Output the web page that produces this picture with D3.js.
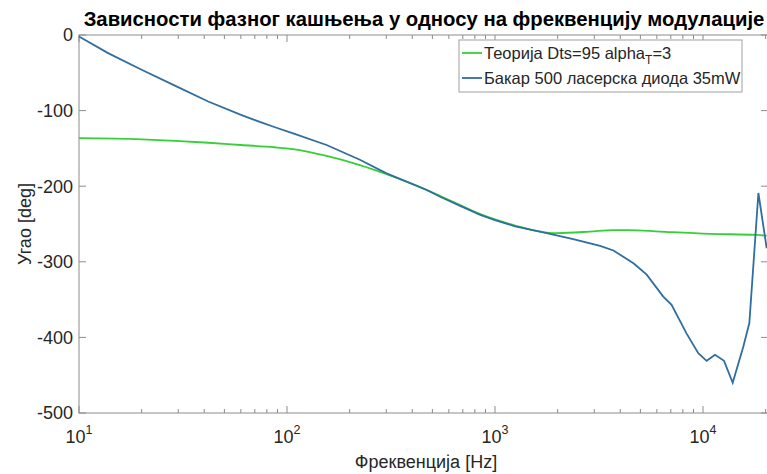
<!DOCTYPE html>
<html><head><meta charset="utf-8">
<script src="https://cdn.jsdelivr.net/npm/d3@7"></script>
<style>
html,body{margin:0;padding:0;background:#fff;overflow:hidden}
svg{display:block;font-family:"Liberation Sans",Arial,sans-serif}
</style></head>
<body>
<svg id="c" width="767" height="474"></svg>
<script>
const titleText = "Зависности фазног кашњења у односу на фреквенцију модулације";
const xLabel = "Фреквенција [Hz]";
const yLabel = "Угао [deg]";
const xTickExps = [1, 2, 3, 4];
const yTicks = [0, -100, -200, -300, -400, -500];

const theoryFreq = [10, 20, 29, 42, 60, 87, 107, 155, 224, 301, 400, 545, 680, 850, 1000, 1250, 1645, 1980, 2860, 3700, 4400, 6200, 10800, 18100, 20230];
const theoryDeg  = [-136.5, -138, -140, -142.5, -145.5, -148.5, -151, -160, -172, -184, -197, -213, -225, -237, -244, -252, -260, -262, -260, -258, -258, -260, -263, -264.5, -265.5];

const copperFreq = [10, 13.8, 20, 28.9, 41.8, 60.5, 74, 87.5, 107, 155, 224, 301, 470, 545, 680, 850, 1000, 1250, 1645, 2376, 3200, 3710, 4630, 5360, 6440, 7060, 8340, 9490, 10410, 11420, 12620, 13890, 15630, 16700, 18460, 20230];
const copperDeg  = [-2, -24, -46, -67, -88, -106, -115, -122, -130, -145.5, -165, -183, -205, -214, -226, -238, -245, -253, -260, -270, -279, -285, -302, -317, -346, -357, -395, -421, -431, -423, -431, -460, -412, -381, -209, -282];

const legendLabels = ["Теорија Dts=95 alpha", "Бакар 500 ласерска диода 35mW"];
const colors = ["#35d035", "#2f6e9e"];

const L = 79, R = 768, T = 35, B = 413;
const svg = d3.select("#c");
const x = d3.scaleLog().domain([10, 20530]).range([L, R]);
const y = d3.scaleLinear().domain([-500, 0]).range([B, T]);
const axisCol = "#8c8c8c", textCol = "#262626";

const minor = [];
for (let e = 1; e <= 4; e++) for (let m = 2; m <= 9; m++) { const v = m * Math.pow(10, e); if (v <= 20530) minor.push(v); }
const g = svg.append("g");
minor.forEach(v => {
  g.append("line").attr("x1", x(v)).attr("x2", x(v)).attr("y1", B).attr("y2", B - 4).attr("stroke", axisCol);
  g.append("line").attr("x1", x(v)).attr("x2", x(v)).attr("y1", T).attr("y2", T + 4).attr("stroke", axisCol);
});
xTickExps.forEach(e => {
  const v = Math.pow(10, e);
  g.append("line").attr("x1", x(v)).attr("x2", x(v)).attr("y1", B).attr("y2", B - 7).attr("stroke", axisCol);
  g.append("line").attr("x1", x(v)).attr("x2", x(v)).attr("y1", T).attr("y2", T + 7).attr("stroke", axisCol);
  const t = svg.append("text").attr("x", x(v)).attr("y", 443).attr("text-anchor", "middle")
    .attr("fill", textCol).attr("font-size", 18);
  t.append("tspan").text("10");
  t.append("tspan").attr("dy", -9).attr("font-size", 12.5).text(e);
});
yTicks.forEach(v => {
  g.append("line").attr("x1", L).attr("x2", L + 7).attr("y1", y(v)).attr("y2", y(v)).attr("stroke", axisCol);
  g.append("line").attr("x1", R).attr("x2", R - 7).attr("y1", y(v)).attr("y2", y(v)).attr("stroke", axisCol);
  svg.append("text").attr("x", L - 6).attr("y", y(v)).attr("dy", "0.36em").attr("text-anchor", "end")
    .attr("fill", textCol).attr("font-size", 18).text(v);
});
svg.append("rect").attr("x", L).attr("y", T).attr("width", R - L).attr("height", B - T)
  .attr("fill", "none").attr("stroke", axisCol).attr("stroke-width", 1);

svg.append("clipPath").attr("id", "cp").append("rect").attr("x", L).attr("y", T).attr("width", R - L).attr("height", B - T);
const lineTheory = d3.line().x((d, i) => x(theoryFreq[i])).y(d => y(d)).curve(d3.curveMonotoneX);
const lineCopper = d3.line().x((d, i) => x(copperFreq[i])).y(d => y(d));
svg.append("path").attr("d", lineTheory(theoryDeg)).attr("fill", "none").attr("stroke", colors[0]).attr("stroke-width", 1.8).attr("clip-path", "url(#cp)");
svg.append("path").attr("d", lineCopper(copperDeg)).attr("fill", "none").attr("stroke", colors[1]).attr("stroke-width", 1.8).attr("clip-path", "url(#cp)");

svg.append("text").attr("x", 424).attr("y", 26).attr("text-anchor", "middle")
  .attr("font-weight", "bold").attr("font-size", 20.3).attr("fill", "#000").text(titleText);
svg.append("text").attr("x", 426).attr("y", 468).attr("text-anchor", "middle")
  .attr("fill", textCol).attr("font-size", 18).text(xLabel);
svg.append("text").attr("transform", "translate(31,224) rotate(-90)").attr("text-anchor", "middle")
  .attr("fill", textCol).attr("font-size", 18).text(yLabel);

const lg = svg.append("g");
lg.append("rect").attr("x", 459).attr("y", 40).attr("width", 283).attr("height", 52)
  .attr("fill", "#fff").attr("stroke", "#a0a0a0").attr("stroke-width", 1);
const ly = [53, 78];
legendLabels.forEach((lab, i) => {
  lg.append("line").attr("x1", 462).attr("x2", 482).attr("y1", ly[i]).attr("y2", ly[i]).attr("stroke", colors[i]).attr("stroke-width", 1.8);
  const t = lg.append("text").attr("x", 484).attr("y", ly[i] + 6).attr("fill", textCol).attr("font-size", 16.5);
  t.append("tspan").text(lab);
  if (i === 0) {
    t.append("tspan").attr("dy", 5).attr("font-size", 12).text("T");
    t.append("tspan").attr("dy", -5).text("=3");
  }
});
</script>
</body></html>
